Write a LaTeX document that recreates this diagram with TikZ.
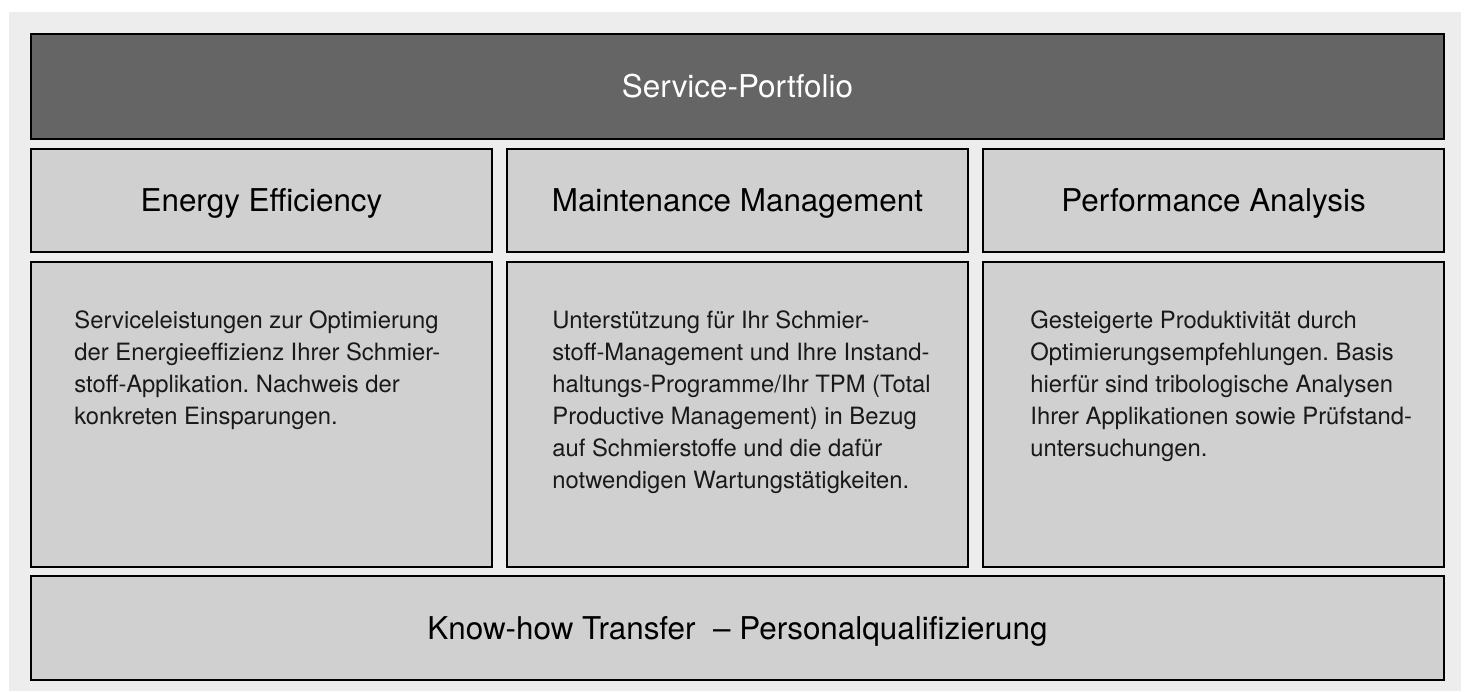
\documentclass[tikz,border=0pt]{standalone}
\usepackage{fontspec}
\setmainfont{TeX Gyre Heros}
\usepackage{xcolor}
\usepackage{tikz}
\usetikzlibrary{positioning}
\definecolor{bggray}{HTML}{EDEDED}
\definecolor{boxgray}{HTML}{D0D0D0}
\definecolor{portgray}{HTML}{656565}
\frenchspacing

\begin{document}
\begin{tikzpicture}[x=0.5pt,y=-0.5pt,font=\fontsize{15.7}{18}\selectfont]
\tikzset{box/.style={draw=black,line width=1.4pt,fill=boxgray,inner sep=0pt,outer sep=0pt,text height=11.2pt,text depth=0pt,minimum width=230.5pt,minimum height=51.5pt},
desc/.style={inner sep=0pt,align=left,font=\fontsize{11.9}{16}\selectfont,text=black!90}}
\useasboundingbox (0,0) rectangle (1466,691);
\fill[bggray] (9,12) rectangle (1461,691);

\node[box,fill=portgray,text=white,anchor=north west,minimum width=706.5pt,minimum height=52.5pt] (portfolio) at (31,34) {Service-Portfolio};

\node[box,below right=5pt and 0pt of portfolio.south west] (energy) {Energy Efficiency};
\node[box,right=7.5pt of energy] (maint) {Maintenance Management};
\node[box,right=7.5pt of maint] (perf) {Performance Analysis};

\node[box,below=5pt of energy,minimum height=152.5pt] (energybox) {};
\node[box,below=5pt of maint,minimum height=152.5pt] (maintbox) {};
\node[box,below=5pt of perf,minimum height=152.5pt] (perfbox) {};

\node[desc,below right=24pt and 21.5pt of energybox.north west] (energydesc) {Serviceleistungen zur Optimierung\\der Energieeffizienz Ihrer Schmier-\\stoff-Applikation. Nachweis der\\konkreten Einsparungen.};
\node[desc,below right=24pt and 22.5pt of maintbox.north west] (maintdesc) {Unterstützung für Ihr Schmier-\\stoff-Management und Ihre Instand-\\haltungs-Programme/Ihr TPM (Total\\Productive Management) in Bezug\\auf Schmierstoffe und die dafür\\notwendigen Wartungstätigkeiten.};
\node[desc,below right=24pt and 23.5pt of perfbox.north west] (perfdesc) {Gesteigerte Produktivität durch\\Optimierungsempfehlungen. Basis\\hierfür sind tribologische Analysen\\Ihrer Applikationen sowie Prüfstand-\\untersuchungen.};

\node[box,below right=4.5pt and 0pt of energybox.south west,minimum width=706.5pt,minimum height=52pt] (knowhow) {Know-how Transfer\ \ – Personalqualifizierung};

\end{tikzpicture}
\end{document}
